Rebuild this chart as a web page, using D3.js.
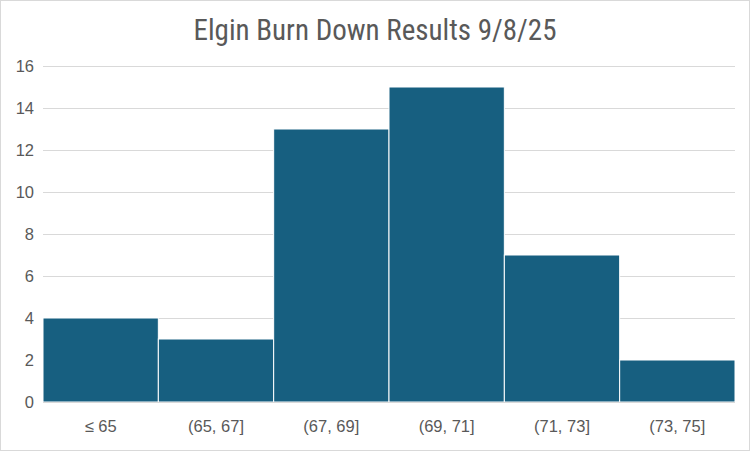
<!DOCTYPE html>
<html>
<head>
<meta charset="utf-8">
<script src="https://cdn.jsdelivr.net/npm/d3@7"></script>
<style>
  body { margin: 0; background: #fff; }
  text { fill: #595959; }
</style>
</head>
<body>
<div id="chart"></div>
<script>
// histogram bins and counts
const bins = ["≤ 65", "(65, 67]", "(67, 69]", "(69, 71]", "(71, 73]", "(73, 75]"];
const counts = [4, 3, 13, 15, 7, 2];
const yTicks = [0, 2, 4, 6, 8, 10, 12, 14, 16];

const W = 750, H = 451;
let margin = { top: 66, left: 43, right: 15, bottom: 49 },
  width = W - margin.left - margin.right,
  height = H - margin.top - margin.bottom;

let svg = d3.select('#chart')
  .append('svg')
  .attr('width', W)
  .attr('height', H);

// outer chart border
svg.append('rect')
  .attr('x', 0.5).attr('y', 0.5)
  .attr('width', W - 1).attr('height', H - 1)
  .attr('fill', '#fff')
  .attr('stroke', '#d9d9d9');

svg.append('text')
  .attr('x', W / 2)
  .attr('y', 40)
  .attr('text-anchor', 'middle')
  .style('font-family', '"Liberation Sans Narrow", "Roboto Condensed", "DejaVu Sans Condensed", sans-serif')
  .style('font-size', '29px')
  .text('Elgin Burn Down Results 9/8/25');

let g = svg.append('g')
  .attr('transform', `translate(${margin.left},${margin.top})`);

const x = d3.scaleBand()
  .domain(bins)
  .range([0, width])
  .padding(0);

const y = d3.scaleLinear()
  .domain([0, 16])
  .range([height, 0]);

// gridlines
g.append('g')
  .selectAll('line')
  .data(yTicks)
  .join('line')
  .attr('x1', 0)
  .attr('x2', width)
  .attr('y1', d => Math.round(y(d)) + 0.5)
  .attr('y2', d => Math.round(y(d)) + 0.5)
  .attr('stroke', '#d9d9d9')
  .attr('stroke-width', 1);

// bars
g.append('g')
  .selectAll('rect')
  .data(counts)
  .join('rect')
  .attr('x', (d, i) => x(bins[i]))
  .attr('y', d => y(d))
  .attr('width', x.bandwidth())
  .attr('height', d => height - y(d))
  .attr('fill', '#175f80')
  .attr('stroke', '#fff')
  .attr('stroke-width', 1);

// y axis labels
g.append('g')
  .call(d3.axisLeft(y).tickValues(yTicks).tickSize(0).tickPadding(9))
  .call(a => a.select('.domain').remove())
  .selectAll('text')
  .style('font-family', '"Liberation Sans", Arial, sans-serif')
  .style('font-size', '16.5px')
  .attr('fill', '#595959');

// x axis labels
g.append('g')
  .attr('transform', `translate(0,${height})`)
  .call(d3.axisBottom(x).tickSize(0).tickPadding(18))
  .call(a => a.select('.domain').remove())
  .selectAll('text')
  .style('font-family', '"Liberation Sans", Arial, sans-serif')
  .style('font-size', '16.5px')
  .attr('fill', '#595959');

// baseline
g.append('line')
  .attr('x1', 0).attr('x2', width)
  .attr('y1', height + 0.5).attr('y2', height + 0.5)
  .attr('stroke', '#d9d9d9');
</script>
</body>
</html>
